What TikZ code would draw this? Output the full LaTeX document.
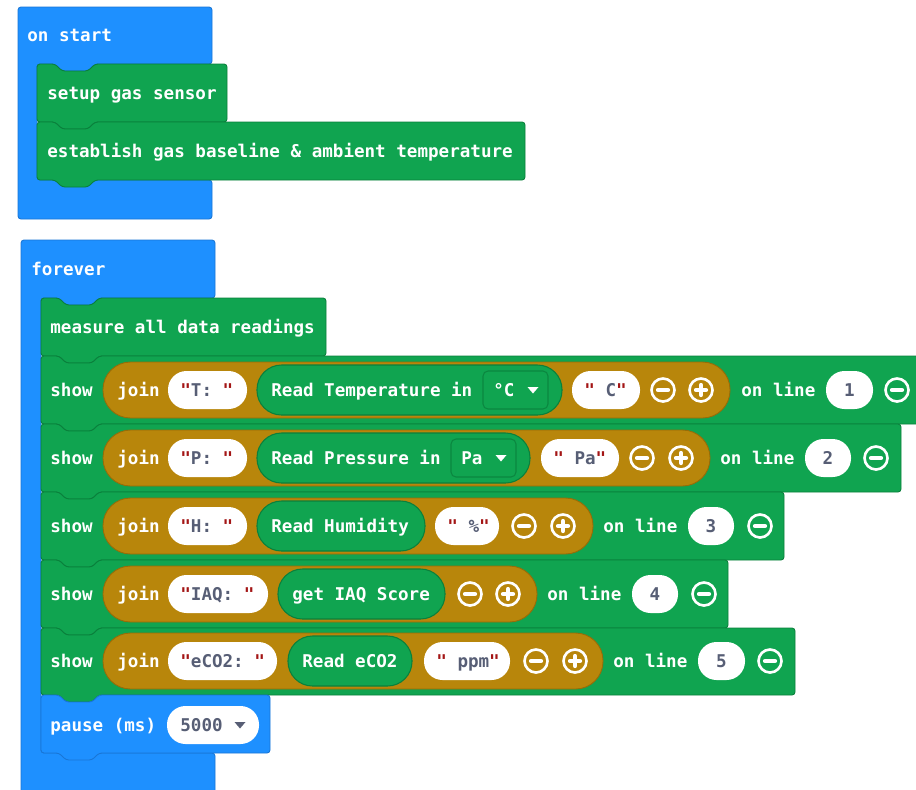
\documentclass[tikz,border=0pt]{standalone}
\usepackage{fontspec}
\setmonofont{DejaVu Sans Mono}
\definecolor{blockblue}{RGB}{30,144,255}
\definecolor{blockblueD}{RGB}{25,118,214}
\definecolor{blockgreen}{RGB}{16,164,80}
\definecolor{blockgreenD}{RGB}{10,128,60}
\definecolor{joingold}{RGB}{184,134,11}
\definecolor{joingoldD}{RGB}{150,108,8}
\definecolor{litgray}{RGB}{87,94,117}
\definecolor{quotered}{RGB}{163,21,21}
\newcommand{\qmark}{\textcolor{quotered}{"}}
% statement block: notch on top, tab below
\newcommand{\stmt}[5][stmtblock]{%
  \path[#1] (#2,#3) -- (#2+18,#3) -- ++(7,7) -- ++(26,0) -- ++(7,-7) -- (#4,#3)
    -- (#4,#5) -- (#2+58,#5) -- ++(-7,7) -- ++(-26,0) -- ++(-7,-7) -- (#2,#5) -- cycle;}
\newcommand{\droparrow}[3][white]{%
  \fill[#1] (#2-5.5,#3-3) -- (#2+5.5,#3-3) -- (#2,#3+3.5) -- cycle;}
\tikzset{
  code/.style={font=\ttfamily\bfseries\fontsize{10}{12}\selectfont, text=white,
    inner sep=0pt, anchor=west, text height=8.8pt, text depth=1pt},
  lit/.style={code, text=litgray},
  hatblock/.style={fill=blockblue, draw=blockblueD, line width=0.5pt, rounded corners=0.06cm},
  stmtblock/.style={fill=blockgreen, draw=blockgreenD, line width=0.5pt, rounded corners=0.06cm},
  pauseblock/.style={hatblock},
  joinpill/.style={fill=joingold, draw=joingoldD, line width=0.5pt, rounded corners=0.55cm},
  reppill/.style={fill=blockgreen, draw=blockgreenD, line width=0.6pt, rounded corners=0.49cm},
  strpill/.style={fill=white, rounded corners=0.37cm},
  dropbox/.style={fill=blockgreen, draw=blockgreenD!80!blockgreen, line width=0.6pt, rounded corners=0.1cm},
  minusbtn/.pic={
    \draw[white, line width=1.5pt] (0,0) circle (0.23cm);
    \draw[white, line width=2.4pt, line cap=round] (-5,0) -- (5,0);},
  plusbtn/.pic={
    \draw[white, line width=1.5pt] (0,0) circle (0.23cm);
    \draw[white, line width=2.4pt, line cap=round] (-5,0) -- (5,0) (0,-5) -- (0,5);},
}
\begin{document}
\begin{tikzpicture}[x=0.02cm, y=-0.02cm]
  \useasboundingbox (0,0) rectangle (916,789);
  \fill[white] (0,0) rectangle (916,789);
  \clip (0,0) rectangle (916,789);
  % on start
  \path[hatblock] (18,7) -- (212,7) -- (212,64) -- (95,64) -- ++(-7,7) -- ++(-26,0) -- ++(-7,-7)
    -- (37,64) -- (37,180) -- (212,180) -- (212,219) -- (18,219) -- cycle;
  \node[code] (onstart) at (27,35) {on start};
  \stmt{37}{64}{227}{122}
  \node[code] (setup) at (47,93) {setup gas sensor};
  \stmt{37}{122}{525}{180}
  \node[code] (baseline) at (47,151) {establish gas baseline \& ambient temperature};
  % forever
  \path[hatblock] (21,240) -- (215,240) -- (215,298) -- (99,298) -- ++(-7,7) -- ++(-26,0) -- ++(-7,-7)
    -- (41,298) -- (41,753) -- (215,753) -- (215,800) -- (21,800) -- cycle;
  \node[code] (forever) at (31,269) {forever};
  \stmt{41}{298}{326}{356}
  \node[code] (measure) at (50,327) {measure all data readings};
  % temperature
  \stmt{41}{356}{930}{424}
  \path[joinpill] (103,362) rectangle (730,418);
  \node[code] (showT) at (50,390) {show};
  \node[code] (joinT) at (117,390) {join};
  \path[strpill] (168,371) rectangle (247,409);
  \node[lit] (litT) at (180,390) {\qmark T:\ \qmark};
  \path[reppill] (257,365) rectangle (562,415);
  \node[code] (readT) at (271,390) {Read Temperature in};
  \path[dropbox] (483,371) rectangle (548,409);
  \node[code] (unitT) at (493,390) {°C};
  \droparrow{533}{390}
  \path[strpill] (572,371) rectangle (640,409);
  \node[lit] (sufT) at (584,390) {\qmark\ C\qmark};
  \pic at (663,390) {minusbtn};
  \pic at (701,390) {plusbtn};
  \node[code] (lineT) at (741,390) {on line};
  \path[strpill] (826,371) rectangle (873,409);
  \node[lit, anchor=center] (numT) at (849.5,390) {1};
  \pic at (897,390) {minusbtn};
  % pressure
  \stmt{41}{424}{901}{492}
  \path[joinpill] (103,430) rectangle (710,486);
  \node[code] (showP) at (50,458) {show};
  \node[code] (joinP) at (117,458) {join};
  \path[strpill] (168,439) rectangle (247,477);
  \node[lit] (litP) at (180,458) {\qmark P:\ \qmark};
  \path[reppill] (257,433) rectangle (530,483);
  \node[code] (readP) at (271,458) {Read Pressure in};
  \path[dropbox] (451,439) rectangle (516,477);
  \node[code] (unitP) at (461,458) {Pa};
  \droparrow{501}{458}
  \path[strpill] (541,439) rectangle (619,477);
  \node[lit] (sufP) at (553,458) {\qmark\ Pa\qmark};
  \pic at (642,458) {minusbtn};
  \pic at (681,458) {plusbtn};
  \node[code] (lineP) at (720,458) {on line};
  \path[strpill] (805,439) rectangle (851,477);
  \node[lit, anchor=center] (numP) at (828,458) {2};
  \pic at (876,458) {minusbtn};
  % humidity
  \stmt{41}{492}{784}{560}
  \path[joinpill] (103,498) rectangle (593,554);
  \node[code] (showH) at (50,526) {show};
  \node[code] (joinH) at (117,526) {join};
  \path[strpill] (168,507) rectangle (247,545);
  \node[lit] (litH) at (180,526) {\qmark H:\ \qmark};
  \path[reppill] (257,501) rectangle (425,551);
  \node[code] (readH) at (271,526) {Read Humidity};
  \path[strpill] (435,507) rectangle (499,545);
  \node[lit] (sufH) at (447,526) {\qmark\ \%\qmark};
  \pic at (524,526) {minusbtn};
  \pic at (563,526) {plusbtn};
  \node[code] (lineH) at (603,526) {on line};
  \path[strpill] (688,507) rectangle (734,545);
  \node[lit, anchor=center] (numH) at (711,526) {3};
  \pic at (760,526) {minusbtn};
  % air quality
  \stmt{41}{560}{728}{628}
  \path[joinpill] (103,566) rectangle (537,622);
  \node[code] (showQ) at (50,594) {show};
  \node[code] (joinQ) at (117,594) {join};
  \path[strpill] (168,575) rectangle (268,613);
  \node[lit] (litQ) at (180,594) {\qmark IAQ:\ \qmark};
  \path[reppill] (278,569) rectangle (445,619);
  \node[code] (readQ) at (292,594) {get IAQ Score};
  \pic at (470,594) {minusbtn};
  \pic at (508,594) {plusbtn};
  \node[code] (lineQ) at (547,594) {on line};
  \path[strpill] (632,575) rectangle (678,613);
  \node[lit, anchor=center] (numQ) at (655,594) {4};
  \pic at (704,594) {minusbtn};
  % eCO2
  \stmt{41}{628}{795}{695}
  \path[joinpill] (103,633) rectangle (603,689);
  \node[code] (showC) at (50,661) {show};
  \node[code] (joinC) at (117,661) {join};
  \path[strpill] (168,642) rectangle (277,680);
  \node[lit] (litC) at (180,661) {\qmark eCO2:\ \qmark};
  \path[reppill] (288,636) rectangle (412,686);
  \node[code] (readC) at (302,661) {Read eCO2};
  \path[strpill] (424,642) rectangle (510,680);
  \node[lit] (sufC) at (436,661) {\qmark\ ppm\qmark};
  \pic at (536,661) {minusbtn};
  \pic at (575,661) {plusbtn};
  \node[code] (lineC) at (613,661) {on line};
  \path[strpill] (698,642) rectangle (745,680);
  \node[lit, anchor=center] (numC) at (721.5,661) {5};
  \pic at (770,661) {minusbtn};
  % pause
  \stmt[pauseblock]{41}{695}{270}{753}
  \node[code] (pause) at (50,725) {pause (ms)};
  \path[strpill] (167,706) rectangle (259,744);
  \node[lit] (delay) at (180,725) {5000};
  \droparrow[litgray]{240}{725}
\end{tikzpicture}
\end{document}
